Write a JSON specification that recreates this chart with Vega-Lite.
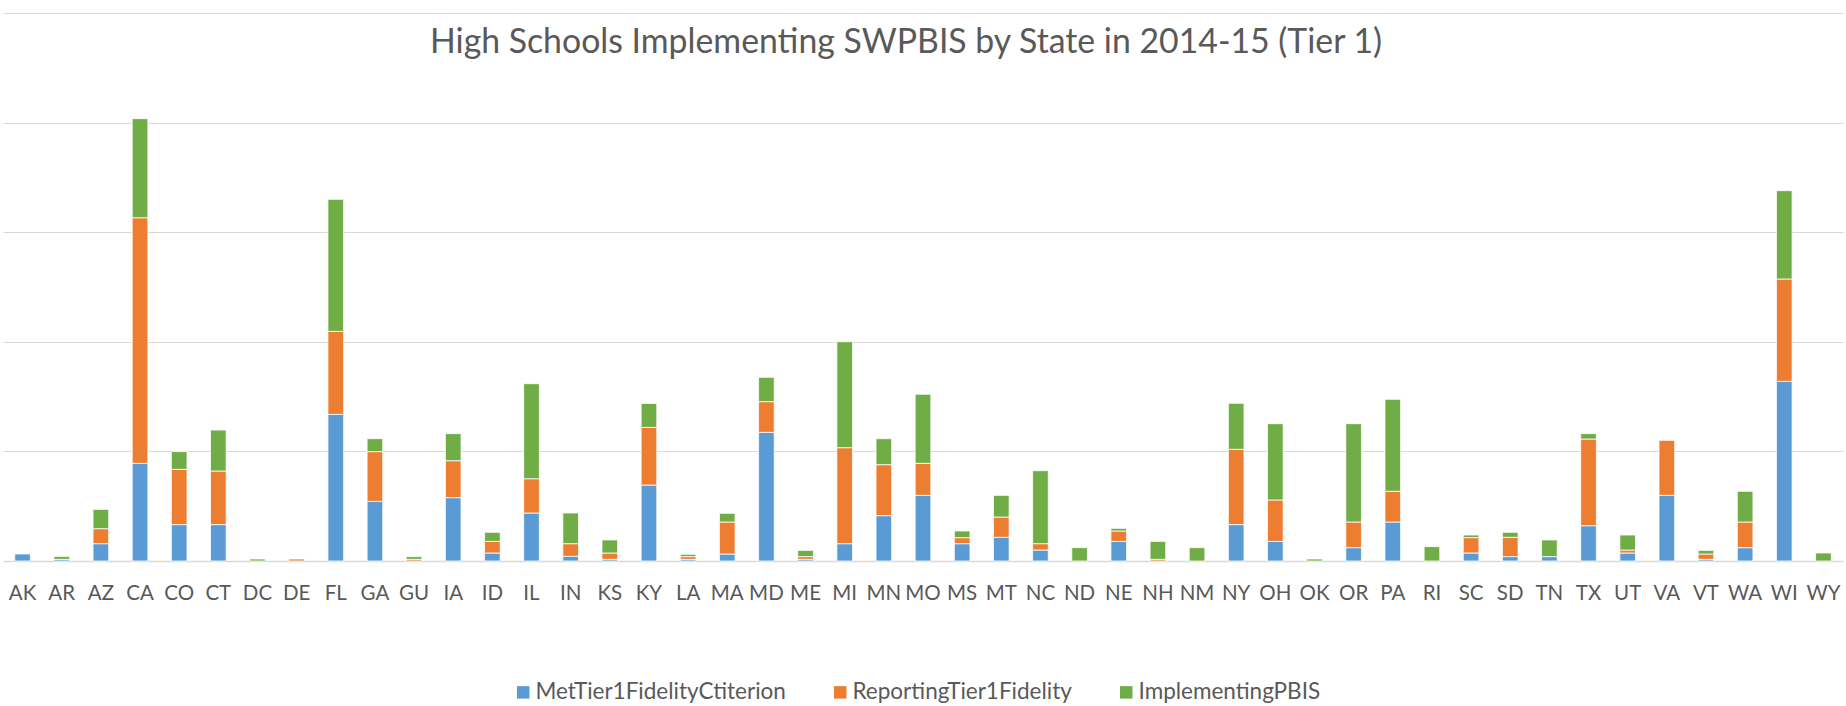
{
  "$schema": "https://vega.github.io/schema/vega-lite/v6.json",
  "width": 1840,
  "height": 548,
  "autosize": {"type": "none"},
  "padding": {"left": 3, "top": 13, "right": 3, "bottom": 145},
  "background": "white",
  "config": {
    "view": {"stroke": null},
    "font": "Lato"
  },
  "title": {
    "text": "High Schools Implementing SWPBIS by State in 2014-15 (Tier 1)",
    "font": "Lato",
    "fontSize": 33.8,
    "fontWeight": "normal",
    "color": "#595959",
    "anchor": "middle",
    "baseline": "alphabetic",
    "offset": -74,
    "dx": -17
  },
  "data": {
    "values": [
      {"state": "AK", "series": "MetTier1FidelityCtiterion", "o": 1, "n": 6.4},
      {"state": "AR", "series": "MetTier1FidelityCtiterion", "o": 1, "n": 1.5},
      {"state": "AR", "series": "ImplementingPBIS", "o": 3, "n": 2.7},
      {"state": "AZ", "series": "MetTier1FidelityCtiterion", "o": 1, "n": 15.8},
      {"state": "AZ", "series": "ReportingTier1Fidelity", "o": 2, "n": 13.7},
      {"state": "AZ", "series": "ImplementingPBIS", "o": 3, "n": 17.6},
      {"state": "CA", "series": "MetTier1FidelityCtiterion", "o": 1, "n": 89.1},
      {"state": "CA", "series": "ReportingTier1Fidelity", "o": 2, "n": 224.1},
      {"state": "CA", "series": "ImplementingPBIS", "o": 3, "n": 90.4},
      {"state": "CO", "series": "MetTier1FidelityCtiterion", "o": 1, "n": 33.2},
      {"state": "CO", "series": "ReportingTier1Fidelity", "o": 2, "n": 50.4},
      {"state": "CO", "series": "ImplementingPBIS", "o": 3, "n": 16.2},
      {"state": "CT", "series": "MetTier1FidelityCtiterion", "o": 1, "n": 33.2},
      {"state": "CT", "series": "ReportingTier1Fidelity", "o": 2, "n": 48.9},
      {"state": "CT", "series": "ImplementingPBIS", "o": 3, "n": 37.4},
      {"state": "DC", "series": "ImplementingPBIS", "o": 3, "n": 1.8},
      {"state": "DE", "series": "ReportingTier1Fidelity", "o": 2, "n": 1.8},
      {"state": "FL", "series": "MetTier1FidelityCtiterion", "o": 1, "n": 133.8},
      {"state": "FL", "series": "ReportingTier1Fidelity", "o": 2, "n": 75.7},
      {"state": "FL", "series": "ImplementingPBIS", "o": 3, "n": 120.5},
      {"state": "GA", "series": "MetTier1FidelityCtiterion", "o": 1, "n": 54.4},
      {"state": "GA", "series": "ReportingTier1Fidelity", "o": 2, "n": 45.4},
      {"state": "GA", "series": "ImplementingPBIS", "o": 3, "n": 11.8},
      {"state": "GU", "series": "ReportingTier1Fidelity", "o": 2, "n": 1.5},
      {"state": "GU", "series": "ImplementingPBIS", "o": 3, "n": 2.5},
      {"state": "IA", "series": "MetTier1FidelityCtiterion", "o": 1, "n": 57.8},
      {"state": "IA", "series": "ReportingTier1Fidelity", "o": 2, "n": 33.7},
      {"state": "IA", "series": "ImplementingPBIS", "o": 3, "n": 24.7},
      {"state": "ID", "series": "MetTier1FidelityCtiterion", "o": 1, "n": 7.3},
      {"state": "ID", "series": "ReportingTier1Fidelity", "o": 2, "n": 10.6},
      {"state": "ID", "series": "ImplementingPBIS", "o": 3, "n": 8.3},
      {"state": "IL", "series": "MetTier1FidelityCtiterion", "o": 1, "n": 43.8},
      {"state": "IL", "series": "ReportingTier1Fidelity", "o": 2, "n": 31.3},
      {"state": "IL", "series": "ImplementingPBIS", "o": 3, "n": 86.7},
      {"state": "IN", "series": "MetTier1FidelityCtiterion", "o": 1, "n": 4.3},
      {"state": "IN", "series": "ReportingTier1Fidelity", "o": 2, "n": 11.5},
      {"state": "IN", "series": "ImplementingPBIS", "o": 3, "n": 28},
      {"state": "KS", "series": "MetTier1FidelityCtiterion", "o": 1, "n": 1.5},
      {"state": "KS", "series": "ReportingTier1Fidelity", "o": 2, "n": 5.8},
      {"state": "KS", "series": "ImplementingPBIS", "o": 3, "n": 11.9},
      {"state": "KY", "series": "MetTier1FidelityCtiterion", "o": 1, "n": 69.3},
      {"state": "KY", "series": "ReportingTier1Fidelity", "o": 2, "n": 52.6},
      {"state": "KY", "series": "ImplementingPBIS", "o": 3, "n": 21.9},
      {"state": "LA", "series": "MetTier1FidelityCtiterion", "o": 1, "n": 1.5},
      {"state": "LA", "series": "ReportingTier1Fidelity", "o": 2, "n": 2.5},
      {"state": "LA", "series": "ImplementingPBIS", "o": 3, "n": 2.1},
      {"state": "MA", "series": "MetTier1FidelityCtiterion", "o": 1, "n": 6.4},
      {"state": "MA", "series": "ReportingTier1Fidelity", "o": 2, "n": 29.2},
      {"state": "MA", "series": "ImplementingPBIS", "o": 3, "n": 7.9},
      {"state": "MD", "series": "MetTier1FidelityCtiterion", "o": 1, "n": 117.4},
      {"state": "MD", "series": "ReportingTier1Fidelity", "o": 2, "n": 28},
      {"state": "MD", "series": "ImplementingPBIS", "o": 3, "n": 22.2},
      {"state": "ME", "series": "MetTier1FidelityCtiterion", "o": 1, "n": 1.5},
      {"state": "ME", "series": "ReportingTier1Fidelity", "o": 2, "n": 2.5},
      {"state": "ME", "series": "ImplementingPBIS", "o": 3, "n": 5.7},
      {"state": "MI", "series": "MetTier1FidelityCtiterion", "o": 1, "n": 15.8},
      {"state": "MI", "series": "ReportingTier1Fidelity", "o": 2, "n": 87.6},
      {"state": "MI", "series": "ImplementingPBIS", "o": 3, "n": 96.7},
      {"state": "MN", "series": "MetTier1FidelityCtiterion", "o": 1, "n": 41.4},
      {"state": "MN", "series": "ReportingTier1Fidelity", "o": 2, "n": 46.5},
      {"state": "MN", "series": "ImplementingPBIS", "o": 3, "n": 23.7},
      {"state": "MO", "series": "MetTier1FidelityCtiterion", "o": 1, "n": 59.9},
      {"state": "MO", "series": "ReportingTier1Fidelity", "o": 2, "n": 29.2},
      {"state": "MO", "series": "ImplementingPBIS", "o": 3, "n": 63},
      {"state": "MS", "series": "MetTier1FidelityCtiterion", "o": 1, "n": 15.8},
      {"state": "MS", "series": "ReportingTier1Fidelity", "o": 2, "n": 5.5},
      {"state": "MS", "series": "ImplementingPBIS", "o": 3, "n": 6.1},
      {"state": "MT", "series": "MetTier1FidelityCtiterion", "o": 1, "n": 21.6},
      {"state": "MT", "series": "ReportingTier1Fidelity", "o": 2, "n": 18.5},
      {"state": "MT", "series": "ImplementingPBIS", "o": 3, "n": 19.8},
      {"state": "NC", "series": "MetTier1FidelityCtiterion", "o": 1, "n": 10},
      {"state": "NC", "series": "ReportingTier1Fidelity", "o": 2, "n": 5.8},
      {"state": "NC", "series": "ImplementingPBIS", "o": 3, "n": 66.6},
      {"state": "ND", "series": "ImplementingPBIS", "o": 3, "n": 12.2},
      {"state": "NE", "series": "MetTier1FidelityCtiterion", "o": 1, "n": 17.9},
      {"state": "NE", "series": "ReportingTier1Fidelity", "o": 2, "n": 9.5},
      {"state": "NE", "series": "ImplementingPBIS", "o": 3, "n": 2.4},
      {"state": "NH", "series": "ReportingTier1Fidelity", "o": 2, "n": 1.5},
      {"state": "NH", "series": "ImplementingPBIS", "o": 3, "n": 16.4},
      {"state": "NM", "series": "ImplementingPBIS", "o": 3, "n": 12.2},
      {"state": "NY", "series": "MetTier1FidelityCtiterion", "o": 1, "n": 33.2},
      {"state": "NY", "series": "ReportingTier1Fidelity", "o": 2, "n": 68.7},
      {"state": "NY", "series": "ImplementingPBIS", "o": 3, "n": 42},
      {"state": "OH", "series": "MetTier1FidelityCtiterion", "o": 1, "n": 17.9},
      {"state": "OH", "series": "ReportingTier1Fidelity", "o": 2, "n": 37.8},
      {"state": "OH", "series": "ImplementingPBIS", "o": 3, "n": 69.6},
      {"state": "OK", "series": "ImplementingPBIS", "o": 3, "n": 1.8},
      {"state": "OR", "series": "MetTier1FidelityCtiterion", "o": 1, "n": 12.2},
      {"state": "OR", "series": "ReportingTier1Fidelity", "o": 2, "n": 23.4},
      {"state": "OR", "series": "ImplementingPBIS", "o": 3, "n": 89.7},
      {"state": "PA", "series": "MetTier1FidelityCtiterion", "o": 1, "n": 35.6},
      {"state": "PA", "series": "ReportingTier1Fidelity", "o": 2, "n": 28},
      {"state": "PA", "series": "ImplementingPBIS", "o": 3, "n": 83.9},
      {"state": "RI", "series": "ImplementingPBIS", "o": 3, "n": 13.1},
      {"state": "SC", "series": "MetTier1FidelityCtiterion", "o": 1, "n": 7.3},
      {"state": "SC", "series": "ReportingTier1Fidelity", "o": 2, "n": 14},
      {"state": "SC", "series": "ImplementingPBIS", "o": 3, "n": 2.4},
      {"state": "SD", "series": "MetTier1FidelityCtiterion", "o": 1, "n": 4},
      {"state": "SD", "series": "ReportingTier1Fidelity", "o": 2, "n": 17.6},
      {"state": "SD", "series": "ImplementingPBIS", "o": 3, "n": 4.6},
      {"state": "TN", "series": "MetTier1FidelityCtiterion", "o": 1, "n": 4},
      {"state": "TN", "series": "ImplementingPBIS", "o": 3, "n": 15.2},
      {"state": "TX", "series": "MetTier1FidelityCtiterion", "o": 1, "n": 32.2},
      {"state": "TX", "series": "ReportingTier1Fidelity", "o": 2, "n": 79.1},
      {"state": "TX", "series": "ImplementingPBIS", "o": 3, "n": 4.9},
      {"state": "UT", "series": "MetTier1FidelityCtiterion", "o": 1, "n": 7.3},
      {"state": "UT", "series": "ReportingTier1Fidelity", "o": 2, "n": 2.7},
      {"state": "UT", "series": "ImplementingPBIS", "o": 3, "n": 13.7},
      {"state": "VA", "series": "MetTier1FidelityCtiterion", "o": 1, "n": 59.9},
      {"state": "VA", "series": "ReportingTier1Fidelity", "o": 2, "n": 50.2},
      {"state": "VT", "series": "MetTier1FidelityCtiterion", "o": 1, "n": 1.5},
      {"state": "VT", "series": "ReportingTier1Fidelity", "o": 2, "n": 4.9},
      {"state": "VT", "series": "ImplementingPBIS", "o": 3, "n": 3.3},
      {"state": "WA", "series": "MetTier1FidelityCtiterion", "o": 1, "n": 12.2},
      {"state": "WA", "series": "ReportingTier1Fidelity", "o": 2, "n": 23.4},
      {"state": "WA", "series": "ImplementingPBIS", "o": 3, "n": 28},
      {"state": "WI", "series": "MetTier1FidelityCtiterion", "o": 1, "n": 163.9},
      {"state": "WI", "series": "ReportingTier1Fidelity", "o": 2, "n": 93.4},
      {"state": "WI", "series": "ImplementingPBIS", "o": 3, "n": 80.6},
      {"state": "WY", "series": "ImplementingPBIS", "o": 3, "n": 7.3}
    ]
  },
  "mark": {"type": "bar", "stroke": "white", "strokeWidth": 0.8},
  "encoding": {
    "x": {
      "field": "state",
      "type": "nominal",
      "sort": "ascending",
      "scale": {"paddingInner": 0.6, "paddingOuter": 0.3},
      "axis": {
        "title": null,
        "labelAngle": 0,
        "labelFont": "Lato",
        "labelFontSize": 20.5,
        "labelColor": "#595959",
        "ticks": false,
        "tickSize": 0,
        "labelPadding": 22,
        "domainColor": "#d9d9d9",
        "domainWidth": 1.5,
        "grid": false
      }
    },
    "y": {
      "field": "n",
      "type": "quantitative",
      "stack": "zero",
      "scale": {"domain": [0, 500], "nice": false},
      "axis": {
        "title": null,
        "labels": false,
        "ticks": false,
        "domain": false,
        "values": [100, 200, 300, 400, 500],
        "gridColor": "#d9d9d9",
        "gridWidth": 1
      }
    },
    "color": {
      "field": "series",
      "type": "nominal",
      "sort": ["MetTier1FidelityCtiterion", "ReportingTier1Fidelity", "ImplementingPBIS"],
      "scale": {
        "domain": ["MetTier1FidelityCtiterion", "ReportingTier1Fidelity", "ImplementingPBIS"],
        "range": ["#5B9BD5", "#ED7D31", "#70AD47"]
      },
      "legend": {
        "title": null,
        "orient": "none",
        "legendX": 509,
        "legendY": 668,
        "direction": "horizontal",
        "symbolType": "square",
        "symbolSize": 155,
        "symbolStrokeWidth": 0,
        "symbolOpacity": 1,
        "labelFont": "Lato",
        "labelFontSize": 22.5,
        "labelLimit": 0,
        "labelOffset": 1,
        "labelColor": "#595959",
        "columnPadding": 43
      }
    },
    "order": {"field": "o", "type": "quantitative", "sort": "ascending"}
  }
}
